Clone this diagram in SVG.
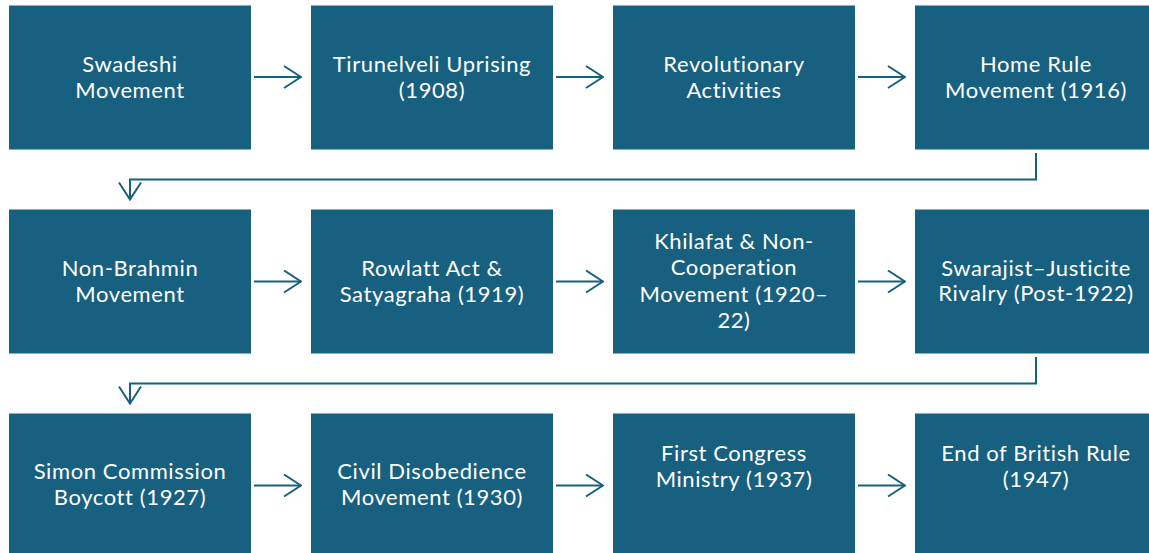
<svg xmlns="http://www.w3.org/2000/svg" width="1149" height="553" viewBox="0 0 1149 553">
<style>
.box{fill:#17607F}
.t{fill:#ffffff;font-family:Lato,"Liberation Sans",sans-serif;font-size:22px;letter-spacing:0.6px;text-anchor:middle}
.c{fill:none;stroke:#17607F;stroke-width:2}
</style>
<defs>
<marker id="ah" viewBox="0 0 20 24" refX="19" refY="12" markerWidth="20" markerHeight="24" markerUnits="userSpaceOnUse" orient="auto">
<path d="M2,1 L19,12 L2,23" fill="none" stroke="#17607F" stroke-width="2"/>
</marker>
</defs>
<rect width="1149" height="553" fill="#ffffff"/>
<g id="n1"><rect class="box" x="9" y="5.5" width="242" height="144"/><text class="t" x="130" y="72">Swadeshi</text><text class="t" x="130" y="97.5">Movement</text></g>
<g id="n2"><rect class="box" x="311" y="5.5" width="242" height="144"/><text class="t" x="432" y="72">Tirunelveli Uprising</text><text class="t" x="432" y="97.5">(1908)</text></g>
<g id="n3"><rect class="box" x="613" y="5.5" width="242" height="144"/><text class="t" x="734" y="72">Revolutionary</text><text class="t" x="734" y="97.5">Activities</text></g>
<g id="n4"><rect class="box" x="915" y="5.5" width="242" height="144"/><text class="t" x="1036" y="72">Home Rule</text><text class="t" x="1036" y="97.5">Movement (1916)</text></g>
<g id="n5"><rect class="box" x="9" y="209.5" width="242" height="144"/><text class="t" x="130" y="276">Non-Brahmin</text><text class="t" x="130" y="301.5">Movement</text></g>
<g id="n6"><rect class="box" x="311" y="209.5" width="242" height="144"/><text class="t" x="432" y="276">Rowlatt Act &amp;</text><text class="t" x="432" y="301.5">Satyagraha (1919)</text></g>
<g id="n7"><rect class="box" x="613" y="209.5" width="242" height="144"/><text class="t" x="734" y="249">Khilafat &amp; Non-</text><text class="t" x="734" y="275">Cooperation</text><text class="t" x="734" y="301.5">Movement (1920–</text><text class="t" x="734" y="327.5">22)</text></g>
<g id="n8"><rect class="box" x="915" y="209.5" width="242" height="144"/><text class="t" x="1036" y="275.5">Swarajist–Justicite</text><text class="t" x="1036" y="301">Rivalry (Post-1922)</text></g>
<g id="n9"><rect class="box" x="9" y="413.5" width="242" height="144"/><text class="t" x="130" y="479">Simon Commission</text><text class="t" x="130" y="505">Boycott (1927)</text></g>
<g id="n10"><rect class="box" x="311" y="413.5" width="242" height="144"/><text class="t" x="432" y="479">Civil Disobedience</text><text class="t" x="432" y="505">Movement (1930)</text></g>
<g id="n11"><rect class="box" x="613" y="413.5" width="242" height="144"/><text class="t" x="734" y="460.5">First Congress</text><text class="t" x="734" y="486.5">Ministry (1937)</text></g>
<g id="n12"><rect class="box" x="915" y="413.5" width="242" height="144"/><text class="t" x="1036" y="460.5">End of British Rule</text><text class="t" x="1036" y="486.5">(1947)</text></g>
<g id="connectors">
<line class="c" x1="254" y1="77" x2="301" y2="77" marker-end="url(#ah)"/>
<line class="c" x1="556" y1="77" x2="603" y2="77" marker-end="url(#ah)"/>
<line class="c" x1="858" y1="77" x2="905" y2="77" marker-end="url(#ah)"/>
<polyline class="c" points="1036,153 1036,179.5 130,179.5 130,199.5" marker-end="url(#ah)"/>
<line class="c" x1="254" y1="281.5" x2="301" y2="281.5" marker-end="url(#ah)"/>
<line class="c" x1="556" y1="281.5" x2="603" y2="281.5" marker-end="url(#ah)"/>
<line class="c" x1="858" y1="281.5" x2="905" y2="281.5" marker-end="url(#ah)"/>
<polyline class="c" points="1036,357 1036,383.5 130,383.5 130,403.5" marker-end="url(#ah)"/>
<line class="c" x1="254" y1="485.5" x2="301" y2="485.5" marker-end="url(#ah)"/>
<line class="c" x1="556" y1="485.5" x2="603" y2="485.5" marker-end="url(#ah)"/>
<line class="c" x1="858" y1="485.5" x2="905" y2="485.5" marker-end="url(#ah)"/>
</g>
</svg>
